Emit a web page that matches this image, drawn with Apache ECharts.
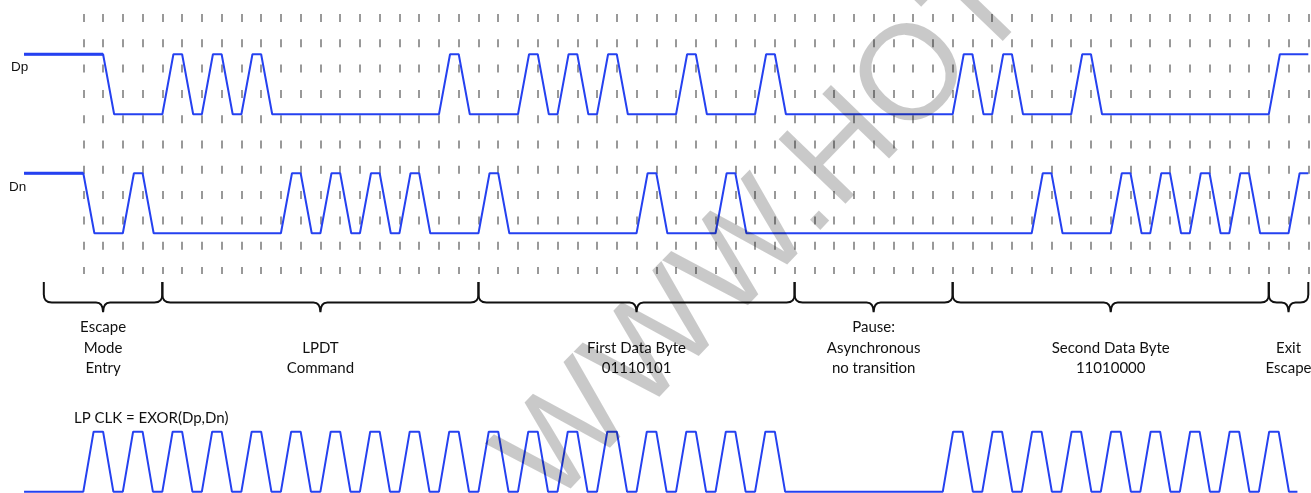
<!DOCTYPE html>
<html>
<head>
<meta charset="utf-8">
<style>
  html, body { margin: 0; padding: 0; background: #fff; }
  #chart { width: 1311px; height: 493px; }
</style>
<script src="https://cdn.jsdelivr.net/npm/echarts@6/dist/echarts.min.js"></script>
</head>
<body>
<div id="chart"></div>
<script>
// time is counted in bit slots, one dashed line per slot (0..62)
const tStart = -3;
const tEnd = 62;
const slotCount = 62;

// each line: starting level, then the slot times where it toggles
const dpInit = 1;
const dpEdges = [1, 4, 5, 6, 7, 8, 9, 18, 19, 22, 23, 24, 25, 26, 27, 30, 31, 34, 35,
  44, 45, 46, 47, 50, 51, 60];
const dnInit = 1;
const dnEdges = [0, 2, 3, 10, 11, 12, 13, 14, 15, 16, 17, 20, 21, 28, 29, 32, 33,
  48, 49, 52, 53, 54, 55, 56, 57, 58, 59, 61];
const clkInit = 0;
const clkEdges = [0, 1, 2, 3, 4, 5, 6, 7, 8, 9, 10, 11, 12, 13, 14, 15, 16, 17, 18, 19,
  20, 21, 22, 23, 24, 25, 26, 27, 28, 29, 30, 31, 32, 33, 34, 35,
  43.5, 44.5, 45.5, 46.5, 47.5, 48.5, 49.5, 50.5, 51.5, 52.5, 53.5, 54.5, 55.5, 56.5,
  57.5, 58.5, 59.5, 60.5];
const clkEnd = 61.45;

// phases marked by the braces
const phaseBounds = [-2, 4, 20, 36, 44, 60, 62];
const phaseLabels = [
  'Escape\nMode\nEntry',
  'LPDT\nCommand',
  'First Data Byte\n01110101',
  'Pause:\nAsynchronous\nno transition',
  'Second Data Byte\n11010000',
  'Exit\nEscape'
];

const BLUE = '#2541f0';
const LABEL_FONT = '15px Lato';
const WM_FONT = '135px "Liberation Sans"';
const WM_ROT = 46 * Math.PI / 180;

// step wave with sloped edges
function wave(init, edges, end, ramp) {
  let lvl = init;
  const pts = [[tStart, lvl]];
  edges.forEach(function (t) {
    pts.push([t, lvl]);
    lvl = 1 - lvl;
    pts.push([t + ramp, lvl]);
  });
  pts.push([end, lvl]);
  return pts;
}

const phases = [];
for (let i = 0; i < phaseLabels.length; i++) {
  phases.push([phaseBounds[i], phaseBounds[i + 1], i]);
}

const myChart = echarts.init(document.getElementById('chart'));

const hiddenX = function (idx) {
  return { type: 'value', gridIndex: idx, min: tStart, max: tEnd, show: false };
};
const hiddenY = function (idx) {
  return { type: 'value', gridIndex: idx, min: 0, max: 1, show: false };
};

function lineSeries(idx, data, width) {
  return {
    type: 'line', xAxisIndex: idx, yAxisIndex: idx, data: data,
    showSymbol: false, symbol: 'none', clip: false, silent: true,
    lineStyle: { color: BLUE, width: width }
  };
}

myChart.setOption({
  animation: false,
  grid: [
    { left: 24.05, right: 2.7, top: 54.3, height: 60 },   // Dp
    { left: 24.05, right: 2.7, top: 173.3, height: 60 },  // Dn
    { left: 24.05, right: 2.7, top: 431.7, height: 60 },  // LP CLK
    { left: 83.3, right: 2.7, top: 14, height: 260 },     // dashed slot lines
    { left: 24.05, right: 2.7, top: 282, height: 30.3 }   // braces
  ],
  xAxis: [
    hiddenX(0), hiddenX(1), hiddenX(2),
    {
      type: 'value', gridIndex: 3, min: 0, max: slotCount, interval: 1,
      axisLine: { show: false }, axisTick: { show: false }, axisLabel: { show: false },
      splitLine: { show: true, lineStyle: { color: '#999', width: 2, type: [8, 17.3] } }
    },
    hiddenX(4)
  ],
  yAxis: [hiddenY(0), hiddenY(1), hiddenY(2), hiddenY(3), hiddenY(4)],
  series: [
    { type: 'line', xAxisIndex: 3, yAxisIndex: 3, data: [] },
    lineSeries(0, [[tStart, dpInit], [dpEdges[0], dpInit]], 3),
    lineSeries(0, wave(dpInit, dpEdges, tEnd, 0.56), 2),
    lineSeries(1, [[tStart, dnInit], [dnEdges[0], dnInit]], 3),
    lineSeries(1, wave(dnInit, dnEdges, tEnd, 0.56), 2),
    lineSeries(2, wave(clkInit, clkEdges, clkEnd, 0.52), 2),
    {
      type: 'custom', xAxisIndex: 4, yAxisIndex: 4, data: phases, silent: true,
      renderItem: function (params, api) {
        const a = api.value(0), b = api.value(1);
        const top = api.coord([a, 1]);
        const xa = top[0], yTop = top[1];
        const xb = api.coord([b, 1])[0];
        const tip = api.coord([(a + b) / 2, 0]);
        const xm = tip[0], yTip = tip[1];
        const yMid = yTop + (yTip - yTop) * 0.68;
        const r = 8, rc = 7;
        const d = 'M' + xa + ',' + yTop + ' L' + xa + ',' + (yMid - r) +
          ' Q' + xa + ',' + yMid + ' ' + (xa + r) + ',' + yMid +
          ' L' + (xm - rc) + ',' + yMid +
          ' Q' + xm + ',' + yMid + ' ' + xm + ',' + yTip +
          ' Q' + xm + ',' + yMid + ' ' + (xm + rc) + ',' + yMid +
          ' L' + (xb - r) + ',' + yMid +
          ' Q' + xb + ',' + yMid + ' ' + xb + ',' + (yMid - r) +
          ' L' + xb + ',' + yTop;
        return {
          type: 'group',
          children: [
            { type: 'path', shape: { pathData: d }, style: { stroke: '#111', lineWidth: 2, fill: 'none' } },
            {
              type: 'text', x: xm, y: yTip + 66.2,
              style: {
                text: phaseLabels[api.value(2)], font: LABEL_FONT, fill: '#111',
                align: 'center', verticalAlign: 'bottom', lineHeight: 20.5
              }
            }
          ]
        };
      }
    }
  ],
  graphic: [
    { type: 'text', x: 11, y: 67, style: { text: 'Dp', font: '13.5px "Liberation Sans"', fill: '#111', verticalAlign: 'middle' } },
    { type: 'text', x: 9, y: 187, style: { text: 'Dn', font: '13.5px "Liberation Sans"', fill: '#111', verticalAlign: 'middle' } },
    { type: 'text', x: 74, y: 418, style: { text: 'LP CLK = EXOR(Dp,Dn)', font: LABEL_FONT, fill: '#111', verticalAlign: 'middle' } },
    // watermark, split at the dot
    {
      type: 'text', x: 811, y: 186, rotation: WM_ROT, z: 100, silent: true,
      style: { text: 'WWW.', align: 'right', verticalAlign: 'middle', font: WM_FONT, fill: 'rgba(0,0,0,0.21)' }
    },
    {
      type: 'text', x: 811, y: 186, rotation: WM_ROT, z: 100, silent: true,
      style: { text: 'HOT', align: 'left', verticalAlign: 'middle', font: WM_FONT, fill: 'rgba(0,0,0,0.21)' }
    }
  ]
});
</script>
</body>
</html>
